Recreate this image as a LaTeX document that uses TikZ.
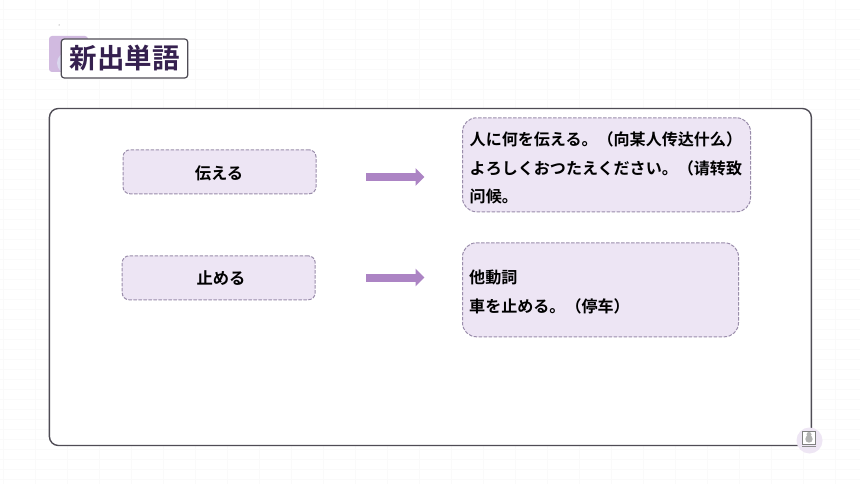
\documentclass[tikz,border=0pt]{standalone}
\usepackage{fontspec}
\setmainfont{Noto Sans CJK JP}[BoldFont={Noto Sans CJK JP Bold}]
\usetikzlibrary{arrows.meta,calc}
\definecolor{boxfill}{HTML}{EDE5F4}
\definecolor{boxedge}{HTML}{9A8DAB}
\definecolor{arrowc}{HTML}{AC84C4}
\definecolor{frameedge}{HTML}{4F4C55}
\definecolor{titlec}{HTML}{35204F}
\definecolor{gridc}{HTML}{FAFAFA}
\definecolor{tabc}{HTML}{D1BAE0}
\definecolor{tabdot}{HTML}{DAD7EE}
\definecolor{badgec}{HTML}{EEE6F4}
\tikzset{
 x=1pt,y=-1pt,
 termbox/.style={draw=boxedge,fill=boxfill,dash pattern=on 3.5pt off 1.5pt,line width=1pt,rounded corners=7pt,inner sep=0pt,anchor=north west},
 descbox/.style={termbox,rounded corners=14pt},
 termtext/.style={font=\fontsize{16.3}{18}\selectfont\bfseries,text=black},
 desctext/.style={font=\fontsize{16.05}{28.7}\selectfont\bfseries,text=black,align=left,anchor=west,inner sep=0pt},
 blockarrow/.style={draw=arrowc,line width=8pt,-{Triangle[length=9pt,width=17pt]}},
}
\begin{document}
\begin{tikzpicture}
\useasboundingbox (0,0) rectangle (860,484);
\fill[white] (0,0) rectangle (860,484);
\foreach \g in {3,35,...,860} \draw[gridc,line width=.5pt] (\g,0) -- (\g,484);
\foreach \g in {9,19,...,484} \draw[gridc,line width=.4pt] (0,\g) -- (860,\g);
\fill[black!60] (59.2,25) circle (.5);
% title
\fill[rounded corners=3pt,tabc] (49,36) rectangle (88,72);
\fill[tabdot] (68,63) circle (11);
\node[draw=frameedge,fill=white,line width=1.2pt,rounded corners=3pt,minimum width=126.5pt,minimum height=39pt,inner sep=0pt,font=\fontsize{27.5}{30}\selectfont\bfseries,text=titlec] (title) at (124.5,58.5) {\raisebox{-1pt}{新出単語}};
% frame
\node[draw=frameedge,fill=white,line width=1.4pt,rounded corners=9pt,minimum width=762pt,minimum height=337pt,inner sep=0pt,anchor=north west] (frame) at (48.7,107.8) {};
% boxes
\node[termbox,minimum width=193pt,minimum height=44pt] (t1) at (122.5,149.3) {};
\node[termtext] (t1t) at (219,173) {伝える};
\node[termbox,minimum width=193pt,minimum height=44pt] (t2) at (121.7,255.3) {};
\node[termtext] (t2t) at (221,278) {止める};
\node[descbox,minimum width=288pt,minimum height=94pt] (d1) at (462,117.3) {};
\node[desctext] (d1t) at (469.5,168) {人に何を伝える。（向某人传达什么）\\よろしくおつたえください。（请转致\\问候。};
\node[descbox,minimum width=276pt,minimum height=94pt] (d2) at (462,242.3) {};
\node[desctext] (d2t) at (469,292) {他動詞\\車を止める。（停车）};
% arrows
\coordinate (a1s) at (366,177);
\coordinate (a1e) at (424.5,177);
\coordinate (a2s) at (366,277.5);
\coordinate (a2e) at (424.5,277.5);
\draw[blockarrow] (a1s) -- (a1e);
\draw[blockarrow] (a2s) -- (a2e);
% badge
\fill[badgec] (809.5,440.5) circle (13);
\node[draw=black!50,fill=white,line width=.8pt,minimum width=13pt,minimum height=13pt,inner sep=0pt] (badge) at (809,438) {};
\fill[black!30] (809,434.5) circle (2.5);
\fill[black!30] (809,439) circle (3.7);
\draw[black!45,line width=1pt] (802,446) -- (816,446);
\end{tikzpicture}
\end{document}
